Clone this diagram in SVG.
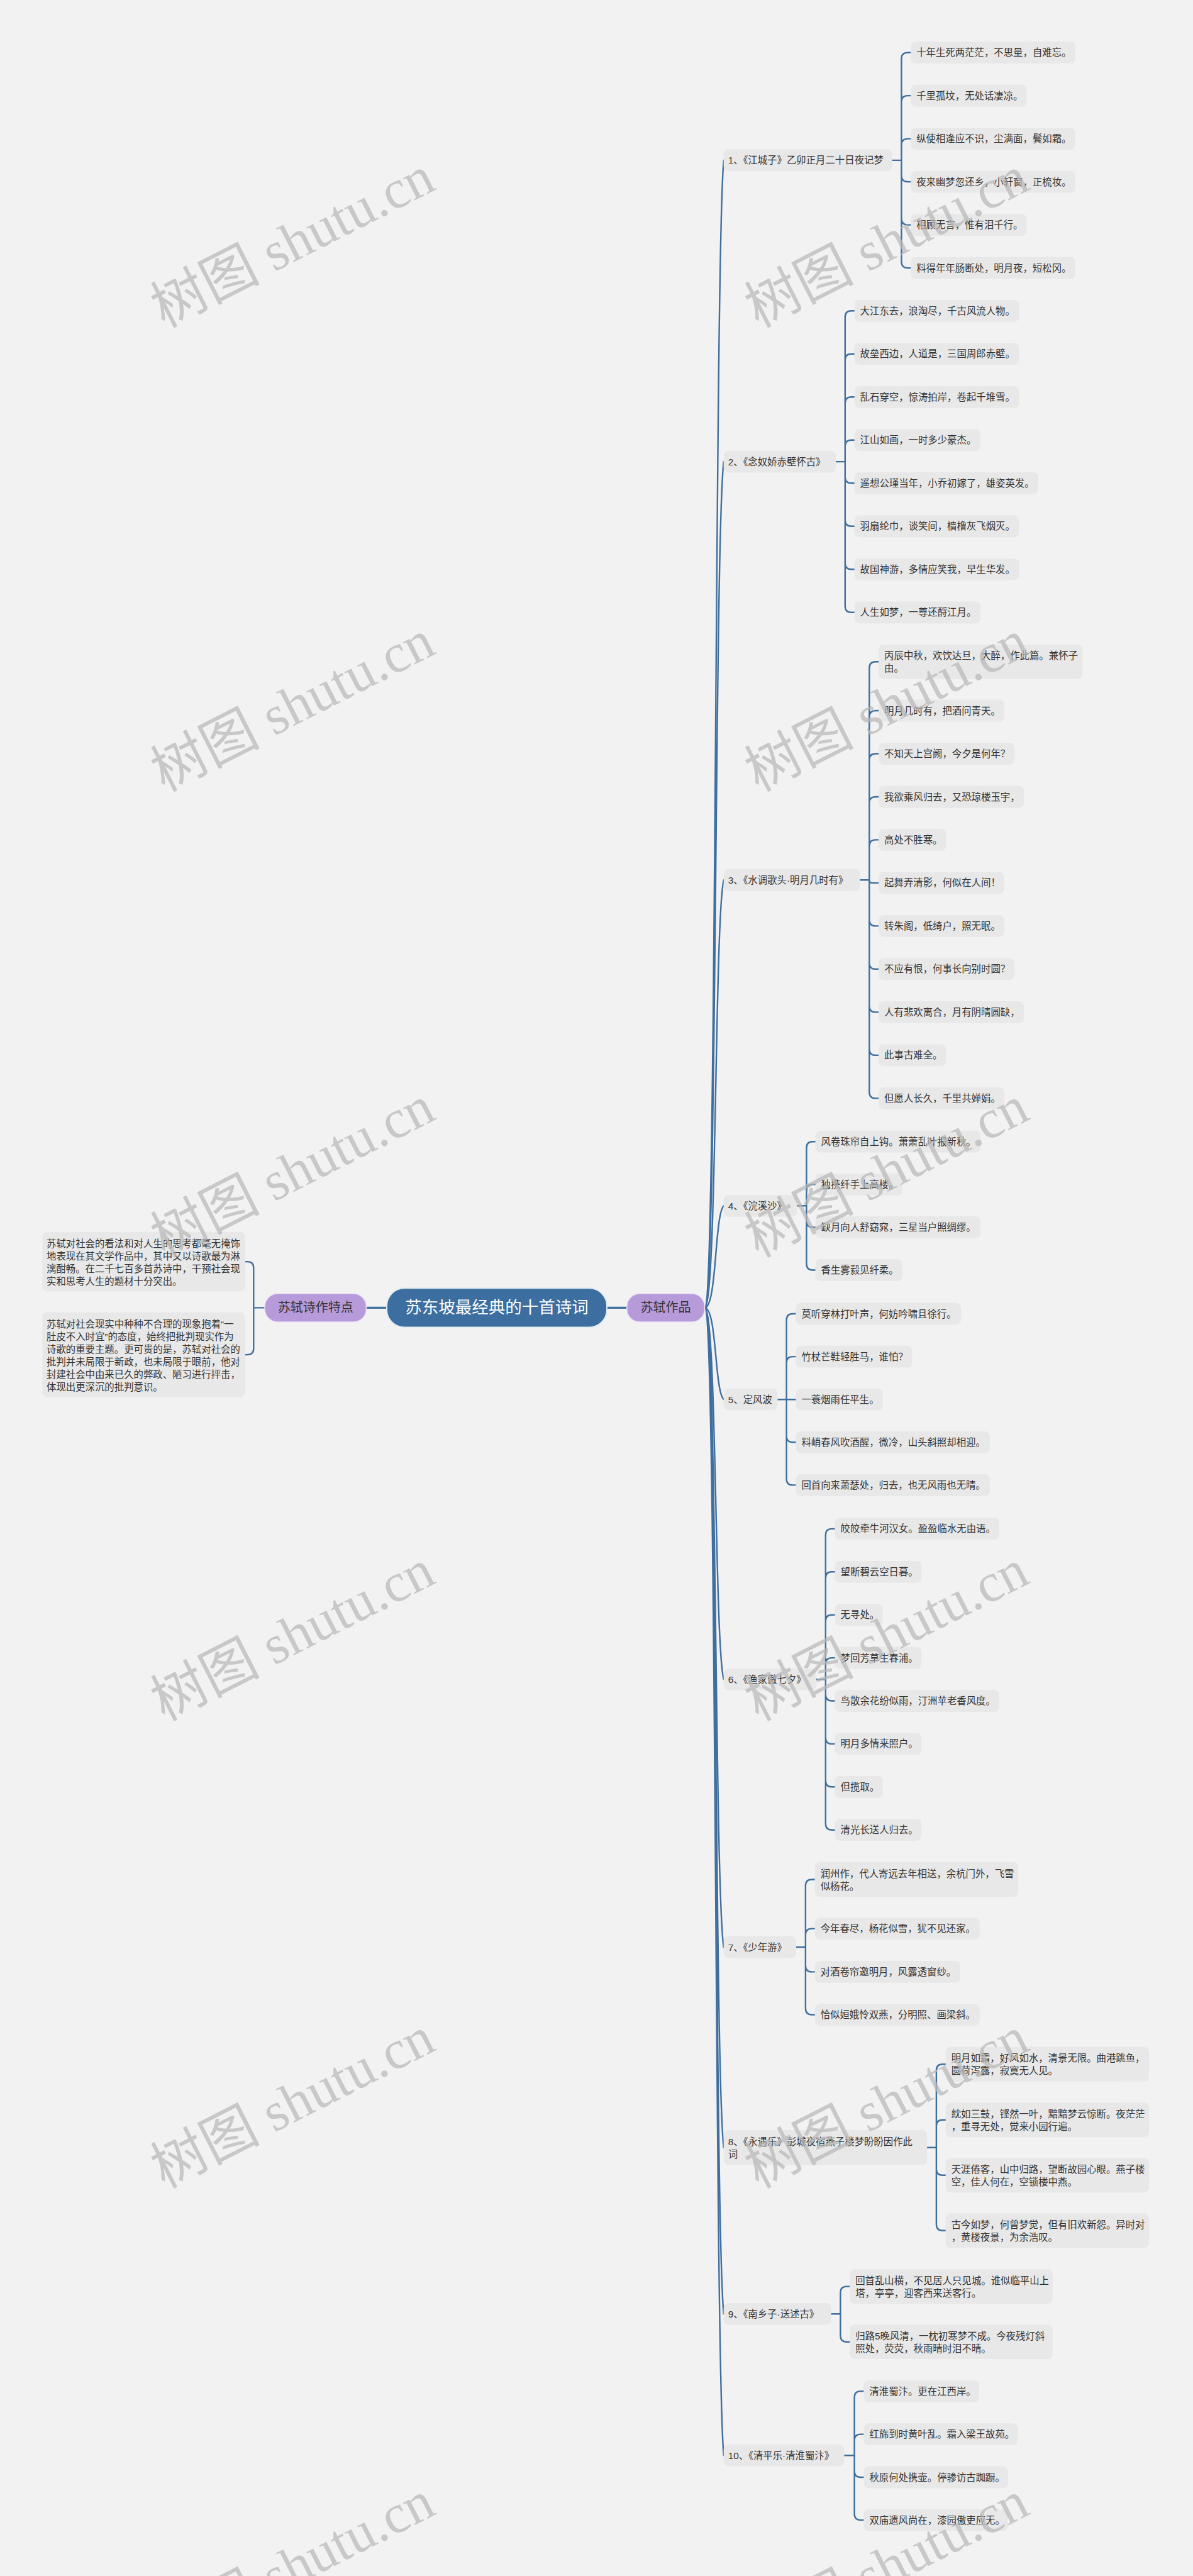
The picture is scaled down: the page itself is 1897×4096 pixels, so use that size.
<svg xmlns="http://www.w3.org/2000/svg" width="1897" height="4096" viewBox="0 0 1897 4096">
<style>
.t{font-family:"Liberation Sans","Noto Sans CJK SC",sans-serif;font-size:15.4px;fill:#333;dominant-baseline:central}
.b{fill:#e8e8e8}
.ln{fill:none;stroke:#3f6f9f;stroke-width:2.4;stroke-linecap:round}
.wm{font-family:"Liberation Serif","Noto Sans CJK SC",serif;font-size:87px;fill:#b8b8b8;opacity:.72}
</style>
<rect width="1897" height="4096" fill="#f2f2f2"/>
<g id="connectors">
<path class="ln" style="stroke-width:3.2" d="M582.4 2079.4H615M965 2079.4H996.8"/>
<path class="ln" d="M421.1 2079.4H403.3V2016.1Q403.3 2006.1 393.3 2006.1H390M403.3 2079.4V2144.1Q403.3 2154.1 393.3 2154.1H390"/>
<path class="ln" d="M1120.4 2079.4C1140 2079.4 1136 437.4 1150.7 254.9M1120.4 2079.4C1140 2079.4 1136 868.6 1150.7 734.1M1120.4 2079.4C1140 2079.4 1136 1467.3 1150.7 1399.3M1120.4 2079.4C1140 2079.4 1136 1933.5 1150.7 1917.3M1120.4 2079.4C1140 2079.4 1136 2210.6 1150.7 2225.2M1120.4 2079.4C1140 2079.4 1136 2611.2 1150.7 2670.3M1120.4 2079.4C1140 2079.4 1136 2994.3 1150.7 3096M1120.4 2079.4C1140 2079.4 1136 3281.2 1150.7 3414.7M1120.4 2079.4C1140 2079.4 1136 3519.3 1150.7 3679.3M1120.4 2079.4C1140 2079.4 1136 3721.7 1150.7 3904.2"/>
<path class="ln" d="M1418.6 254.9H1433.4V93.6Q1433.4 83.6 1443.4 83.6H1448.2M1433.4 254.9V162.1Q1433.4 152.1 1443.4 152.1H1448.2M1433.4 254.9V230.6Q1433.4 220.6 1443.4 220.6H1448.2M1433.4 254.9V279.1Q1433.4 289.1 1443.4 289.1H1448.2M1433.4 254.9V347.6Q1433.4 357.6 1443.4 357.6H1448.2M1433.4 254.9V416.1Q1433.4 426.1 1443.4 426.1H1448.2"/>
<path class="ln" d="M1329 734.1H1343.8V504.3Q1343.8 494.3 1353.8 494.3H1358.6M1343.8 734.1V572.8Q1343.8 562.8 1353.8 562.8H1358.6M1343.8 734.1V641.3Q1343.8 631.3 1353.8 631.3H1358.6M1343.8 734.1V709.8Q1343.8 699.8 1353.8 699.8H1358.6M1343.8 734.1V758.3Q1343.8 768.3 1353.8 768.3H1358.6M1343.8 734.1V826.8Q1343.8 836.8 1353.8 836.8H1358.6M1343.8 734.1V895.3Q1343.8 905.3 1353.8 905.3H1358.6M1343.8 734.1V963.8Q1343.8 973.8 1353.8 973.8H1358.6"/>
<path class="ln" d="M1367.5 1399.3H1382.3V1062.3Q1382.3 1052.3 1392.3 1052.3H1397.1M1382.3 1399.3V1140Q1382.3 1130 1392.3 1130H1397.1M1382.3 1399.3V1208.5Q1382.3 1198.5 1392.3 1198.5H1397.1M1382.3 1399.3V1277Q1382.3 1267 1392.3 1267H1397.1M1382.3 1399.3V1345.4Q1382.3 1335.4 1392.3 1335.4H1397.1M1382.3 1399.3Q1382.3 1403.9 1386.9 1403.9H1397.1M1382.3 1399.3V1462.4Q1382.3 1472.4 1392.3 1472.4H1397.1M1382.3 1399.3V1530.9Q1382.3 1540.9 1392.3 1540.9H1397.1M1382.3 1399.3V1599.4Q1382.3 1609.4 1392.3 1609.4H1397.1M1382.3 1399.3V1667.9Q1382.3 1677.9 1392.3 1677.9H1397.1M1382.3 1399.3V1736.4Q1382.3 1746.4 1392.3 1746.4H1397.1"/>
<path class="ln" d="M1267.6 1917.3H1282.4V1825.2Q1282.4 1815.2 1292.4 1815.2H1296.5M1282.4 1917.3V1893.3Q1282.4 1883.3 1292.4 1883.3H1296.5M1282.4 1917.3V1941.4Q1282.4 1951.4 1292.4 1951.4H1296.5M1282.4 1917.3V2009.5Q1282.4 2019.5 1292.4 2019.5H1296.5"/>
<path class="ln" d="M1236.5 2225.2H1250.6V2099Q1250.6 2089 1260.6 2089H1265.4M1250.6 2225.2V2167.1Q1250.6 2157.1 1260.6 2157.1H1265.4M1250.6 2225.2H1265.4M1250.6 2225.2V2283.3Q1250.6 2293.3 1260.6 2293.3H1265.4M1250.6 2225.2V2351.4Q1250.6 2361.4 1260.6 2361.4H1265.4"/>
<path class="ln" d="M1298 2670.3H1312.8V2440.9Q1312.8 2430.9 1322.8 2430.9H1327.6M1312.8 2670.3V2509.3Q1312.8 2499.3 1322.8 2499.3H1327.6M1312.8 2670.3V2577.7Q1312.8 2567.7 1322.8 2567.7H1327.6M1312.8 2670.3V2646.1Q1312.8 2636.1 1322.8 2636.1H1327.6M1312.8 2670.3V2694.5Q1312.8 2704.5 1322.8 2704.5H1327.6M1312.8 2670.3V2762.9Q1312.8 2772.9 1322.8 2772.9H1327.6M1312.8 2670.3V2831.3Q1312.8 2841.3 1322.8 2841.3H1327.6M1312.8 2670.3V2899.7Q1312.8 2909.7 1322.8 2909.7H1327.6"/>
<path class="ln" d="M1266.1 3096H1280.9V2998.5Q1280.9 2988.5 1290.9 2988.5H1295.7M1280.9 3096V3076.6Q1280.9 3066.6 1290.9 3066.6H1295.7M1280.9 3096V3125.4Q1280.9 3135.4 1290.9 3135.4H1295.7M1280.9 3096V3193.5Q1280.9 3203.5 1290.9 3203.5H1295.7"/>
<path class="ln" d="M1474.1 3414.7H1488.9V3292.3Q1488.9 3282.3 1498.9 3282.3H1503.7M1488.9 3414.7V3380.7Q1488.9 3370.7 1498.9 3370.7H1503.7M1488.9 3414.7V3448.8Q1488.9 3458.8 1498.9 3458.8H1503.7M1488.9 3414.7V3536.8Q1488.9 3546.8 1498.9 3546.8H1503.7"/>
<path class="ln" d="M1321.6 3679.3H1336.4V3645.6Q1336.4 3635.6 1346.4 3635.6H1351.2M1336.4 3679.3V3713.7Q1336.4 3723.7 1346.4 3723.7H1351.2"/>
<path class="ln" d="M1342.4 3904.2H1358.6V3812.1Q1358.6 3802.1 1368.6 3802.1H1373.4M1358.6 3904.2V3880.6Q1358.6 3870.6 1368.6 3870.6H1373.4M1358.6 3904.2V3929Q1358.6 3939 1368.6 3939H1373.4M1358.6 3904.2V3997.1Q1358.6 4007.1 1368.6 4007.1H1373.4"/>
</g>
<g id="root"><rect x="615" y="2048.3" width="350" height="62.2" rx="28" fill="#3c6e9f" stroke="#e3ebf3" stroke-width="2"/><text x="790" y="2079.4" text-anchor="middle" style="font-family:'Liberation Sans','Noto Sans CJK SC',sans-serif;font-size:26.5px;fill:#fff;dominant-baseline:central">苏东坡最经典的十首诗词</text></g>
<g id="left-main"><rect x="421.1" y="2057" width="161.3" height="45" rx="20" fill="#b79ad9" stroke="#ece4f6" stroke-width="1.5"/><text x="501.7" y="2079.4" text-anchor="middle" class="t" style="font-size:20px">苏轼诗作特点</text></g>
<g id="right-main"><rect x="996.8" y="2057" width="123.6" height="45" rx="20" fill="#b79ad9" stroke="#ece4f6" stroke-width="1.5"/><text x="1058.6" y="2079.4" text-anchor="middle" class="t" style="font-size:20px">苏轼作品</text></g>
<g id="left-1"><rect class="b" x="67.3" y="1958.8" width="322.7" height="94.7" rx="8"/><text class="t" x="74"><tspan x="74" y="1976.5">苏轼对社会的看法和对人生的思考都毫无掩饰</tspan><tspan x="74" y="1996.7">地表现在其文学作品中，其中又以诗歌最为淋</tspan><tspan x="74" y="2016.9">漓酣畅。在二千七百多首苏诗中，干预社会现</tspan><tspan x="74" y="2037.1">实和思考人生的题材十分突出。</tspan></text></g>
<g id="left-2"><rect class="b" x="67.3" y="2086.8" width="322.7" height="134.7" rx="8"/><text class="t" x="74"><tspan x="74" y="2104.8">苏轼对社会现实中种种不合理的现象抱着“一</tspan><tspan x="74" y="2124.9">肚皮不入时宜”的态度，始终把批判现实作为</tspan><tspan x="74" y="2145">诗歌的重要主题。更可贵的是，苏轼对社会的</tspan><tspan x="74" y="2165.1">批判并未局限于新政，也未局限于眼前，他对</tspan><tspan x="74" y="2185.2">封建社会中由来已久的弊政、陋习进行抨击，</tspan><tspan x="74" y="2205.3">体现出更深沉的批判意识。</tspan></text></g>
<g id="c1"><rect class="b" x="1150.7" y="237.5" width="267.9" height="34.8" rx="8"/><text class="t" x="1157.7" y="254.9">1、《江城子》乙卯正月二十日夜记梦</text></g>
<g id="c1-1"><rect class="b" x="1448.2" y="66.2" width="261.9" height="34.8" rx="8"/><text class="t" x="1457.2" y="83.6">十年生死两茫茫，不思量，自难忘。</text></g>
<g id="c1-2"><rect class="b" x="1448.2" y="134.7" width="184.2" height="34.8" rx="8"/><text class="t" x="1457.2" y="152.1">千里孤坟，无处话凄凉。</text></g>
<g id="c1-3"><rect class="b" x="1448.2" y="203.2" width="261.9" height="34.8" rx="8"/><text class="t" x="1457.2" y="220.6">纵使相逢应不识，尘满面，鬓如霜。</text></g>
<g id="c1-4"><rect class="b" x="1448.2" y="271.7" width="261.9" height="34.8" rx="8"/><text class="t" x="1457.2" y="289.1">夜来幽梦忽还乡，小轩窗，正梳妆。</text></g>
<g id="c1-5"><rect class="b" x="1448.2" y="340.2" width="184.2" height="34.8" rx="8"/><text class="t" x="1457.2" y="357.6">相顾无言，惟有泪千行。</text></g>
<g id="c1-6"><rect class="b" x="1448.2" y="408.7" width="261.9" height="34.8" rx="8"/><text class="t" x="1457.2" y="426.1">料得年年肠断处，明月夜，短松冈。</text></g>
<g id="c2"><rect class="b" x="1150.7" y="716.7" width="178.3" height="34.8" rx="8"/><text class="t" x="1157.7" y="734.1">2、《念奴娇赤壁怀古》</text></g>
<g id="c2-1"><rect class="b" x="1358.6" y="476.9" width="262" height="34.8" rx="8"/><text class="t" x="1367.6" y="494.3">大江东去，浪淘尽，千古风流人物。</text></g>
<g id="c2-2"><rect class="b" x="1358.6" y="545.4" width="262" height="34.8" rx="8"/><text class="t" x="1367.6" y="562.8">故垒西边，人道是，三国周郎赤壁。</text></g>
<g id="c2-3"><rect class="b" x="1358.6" y="613.9" width="262" height="34.8" rx="8"/><text class="t" x="1367.6" y="631.3">乱石穿空，惊涛拍岸，卷起千堆雪。</text></g>
<g id="c2-4"><rect class="b" x="1358.6" y="682.4" width="200.6" height="34.8" rx="8"/><text class="t" x="1367.6" y="699.8">江山如画，一时多少豪杰。</text></g>
<g id="c2-5"><rect class="b" x="1358.6" y="750.9" width="292.3" height="34.8" rx="8"/><text class="t" x="1367.6" y="768.3">遥想公瑾当年，小乔初嫁了，雄姿英发。</text></g>
<g id="c2-6"><rect class="b" x="1358.6" y="819.4" width="262" height="34.8" rx="8"/><text class="t" x="1367.6" y="836.8">羽扇纶巾，谈笑间，樯橹灰飞烟灭。</text></g>
<g id="c2-7"><rect class="b" x="1358.6" y="887.9" width="262" height="34.8" rx="8"/><text class="t" x="1367.6" y="905.3">故国神游，多情应笑我，早生华发。</text></g>
<g id="c2-8"><rect class="b" x="1358.6" y="956.4" width="200.6" height="34.8" rx="8"/><text class="t" x="1367.6" y="973.8">人生如梦，一尊还酹江月。</text></g>
<g id="c3"><rect class="b" x="1150.7" y="1381.9" width="216.8" height="34.8" rx="8"/><text class="t" x="1157.7" y="1399.3">3、《水调歌头·明月几时有》</text></g>
<g id="c3-1"><rect class="b" x="1397.1" y="1024.9" width="324.1" height="54.8" rx="8"/><text class="t"><tspan x="1406.1" y="1042.3">丙辰中秋，欢饮达旦，大醉，作此篇。兼怀子</tspan><tspan x="1406.1" y="1062.3">由。</tspan></text></g>
<g id="c3-2"><rect class="b" x="1397.1" y="1112.6" width="199.8" height="34.8" rx="8"/><text class="t" x="1406.1" y="1130">明月几时有，把酒问青天。</text></g>
<g id="c3-3"><rect class="b" x="1397.1" y="1181.1" width="216.1" height="34.8" rx="8"/><text class="t" x="1406.1" y="1198.5">不知天上宫阙，今夕是何年？</text></g>
<g id="c3-4"><rect class="b" x="1397.1" y="1249.6" width="230.9" height="34.8" rx="8"/><text class="t" x="1406.1" y="1267">我欲乘风归去，又恐琼楼玉宇，</text></g>
<g id="c3-5"><rect class="b" x="1397.1" y="1318" width="107.3" height="34.8" rx="8"/><text class="t" x="1406.1" y="1335.4">高处不胜寒。</text></g>
<g id="c3-6"><rect class="b" x="1397.1" y="1386.5" width="199.8" height="34.8" rx="8"/><text class="t" x="1406.1" y="1403.9">起舞弄清影，何似在人间！</text></g>
<g id="c3-7"><rect class="b" x="1397.1" y="1455" width="199.8" height="34.8" rx="8"/><text class="t" x="1406.1" y="1472.4">转朱阁，低绮户，照无眠。</text></g>
<g id="c3-8"><rect class="b" x="1397.1" y="1523.5" width="216.1" height="34.8" rx="8"/><text class="t" x="1406.1" y="1540.9">不应有恨，何事长向别时圆？</text></g>
<g id="c3-9"><rect class="b" x="1397.1" y="1592" width="230.9" height="34.8" rx="8"/><text class="t" x="1406.1" y="1609.4">人有悲欢离合，月有阴晴圆缺，</text></g>
<g id="c3-10"><rect class="b" x="1397.1" y="1660.5" width="107.3" height="34.8" rx="8"/><text class="t" x="1406.1" y="1677.9">此事古难全。</text></g>
<g id="c3-11"><rect class="b" x="1397.1" y="1729" width="199.8" height="34.8" rx="8"/><text class="t" x="1406.1" y="1746.4">但愿人长久，千里共婵娟。</text></g>
<g id="c4"><rect class="b" x="1150.7" y="1899.9" width="116.9" height="34.8" rx="8"/><text class="t" x="1157.7" y="1917.3">4、《浣溪沙》</text></g>
<g id="c4-1"><rect class="b" x="1296.5" y="1797.8" width="262.7" height="34.8" rx="8"/><text class="t" x="1305.5" y="1815.2">风卷珠帘自上钩。萧萧乱叶报新秋。</text></g>
<g id="c4-2"><rect class="b" x="1296.5" y="1865.9" width="138.4" height="34.8" rx="8"/><text class="t" x="1305.5" y="1883.3">独携纤手上高楼。</text></g>
<g id="c4-3"><rect class="b" x="1296.5" y="1934" width="262.7" height="34.8" rx="8"/><text class="t" x="1305.5" y="1951.4">缺月向人舒窈窕，三星当户照绸缪。</text></g>
<g id="c4-4"><rect class="b" x="1296.5" y="2002.1" width="138.4" height="34.8" rx="8"/><text class="t" x="1305.5" y="2019.5">香生雾縠见纤柔。</text></g>
<g id="c5"><rect class="b" x="1150.7" y="2207.8" width="85.8" height="34.8" rx="8"/><text class="t" x="1157.7" y="2225.2">5、定风波</text></g>
<g id="c5-1"><rect class="b" x="1265.4" y="2071.6" width="262.7" height="34.8" rx="8"/><text class="t" x="1274.4" y="2089">莫听穿林打叶声，何妨吟啸且徐行。</text></g>
<g id="c5-2"><rect class="b" x="1265.4" y="2139.7" width="185" height="34.8" rx="8"/><text class="t" x="1274.4" y="2157.1">竹杖芒鞋轻胜马，谁怕？</text></g>
<g id="c5-3"><rect class="b" x="1265.4" y="2207.8" width="138.4" height="34.8" rx="8"/><text class="t" x="1274.4" y="2225.2">一蓑烟雨任平生。</text></g>
<g id="c5-4"><rect class="b" x="1265.4" y="2275.9" width="308.6" height="34.8" rx="8"/><text class="t" x="1274.4" y="2293.3">料峭春风吹酒醒，微冷，山头斜照却相迎。</text></g>
<g id="c5-5"><rect class="b" x="1265.4" y="2344" width="308.6" height="34.8" rx="8"/><text class="t" x="1274.4" y="2361.4">回首向来萧瑟处，归去，也无风雨也无晴。</text></g>
<g id="c6"><rect class="b" x="1150.7" y="2652.9" width="147.3" height="34.8" rx="8"/><text class="t" x="1157.7" y="2670.3">6、《渔家傲七夕》</text></g>
<g id="c6-1"><rect class="b" x="1327.6" y="2413.5" width="261.2" height="34.8" rx="8"/><text class="t" x="1336.6" y="2430.9">皎皎牵牛河汉女。盈盈临水无由语。</text></g>
<g id="c6-2"><rect class="b" x="1327.6" y="2481.9" width="137.6" height="34.8" rx="8"/><text class="t" x="1336.6" y="2499.3">望断碧云空日暮。</text></g>
<g id="c6-3"><rect class="b" x="1327.6" y="2550.3" width="76.2" height="34.8" rx="8"/><text class="t" x="1336.6" y="2567.7">无寻处。</text></g>
<g id="c6-4"><rect class="b" x="1327.6" y="2618.7" width="137.6" height="34.8" rx="8"/><text class="t" x="1336.6" y="2636.1">梦回芳草生春浦。</text></g>
<g id="c6-5"><rect class="b" x="1327.6" y="2687.1" width="261.2" height="34.8" rx="8"/><text class="t" x="1336.6" y="2704.5">鸟散余花纷似雨，汀洲苹老香风度。</text></g>
<g id="c6-6"><rect class="b" x="1327.6" y="2755.5" width="137.6" height="34.8" rx="8"/><text class="t" x="1336.6" y="2772.9">明月多情来照户。</text></g>
<g id="c6-7"><rect class="b" x="1327.6" y="2823.9" width="76.2" height="34.8" rx="8"/><text class="t" x="1336.6" y="2841.3">但揽取。</text></g>
<g id="c6-8"><rect class="b" x="1327.6" y="2892.3" width="137.6" height="34.8" rx="8"/><text class="t" x="1336.6" y="2909.7">清光长送人归去。</text></g>
<g id="c7"><rect class="b" x="1150.7" y="3078.6" width="115.4" height="34.8" rx="8"/><text class="t" x="1157.7" y="3096">7、《少年游》</text></g>
<g id="c7-1"><rect class="b" x="1295.7" y="2960.7" width="323.4" height="55.5" rx="8"/><text class="t"><tspan x="1304.7" y="2978.6">润州作，代人寄远去年相送，余杭门外，飞雪</tspan><tspan x="1304.7" y="2998.6">似杨花。</tspan></text></g>
<g id="c7-2"><rect class="b" x="1295.7" y="3049.2" width="262" height="34.8" rx="8"/><text class="t" x="1304.7" y="3066.6">今年春尽，杨花似雪，犹不见还家。</text></g>
<g id="c7-3"><rect class="b" x="1295.7" y="3118" width="230.9" height="34.8" rx="8"/><text class="t" x="1304.7" y="3135.4">对酒卷帘邀明月，风露透窗纱。</text></g>
<g id="c7-4"><rect class="b" x="1295.7" y="3186.1" width="262" height="34.8" rx="8"/><text class="t" x="1304.7" y="3203.5">恰似姮娥怜双燕，分明照、画梁斜。</text></g>
<g id="c8"><rect class="b" x="1150.7" y="3387" width="323.4" height="55.5" rx="8"/><text class="t"><tspan x="1157.7" y="3404.7">8、《永遇乐》彭城夜宿燕子楼梦盼盼因作此</tspan><tspan x="1157.7" y="3424.7">词</tspan></text></g>
<g id="c8-1"><rect class="b" x="1503.7" y="3254.8" width="323.4" height="55" rx="8"/><text class="t"><tspan x="1512.7" y="3272.3">明月如霜，好风如水，清景无限。曲港跳鱼，</tspan><tspan x="1512.7" y="3292.3">圆荷泻露，寂寞无人见。</tspan></text></g>
<g id="c8-2"><rect class="b" x="1503.7" y="3343.2" width="323.4" height="55" rx="8"/><text class="t"><tspan x="1512.7" y="3360.7">紞如三鼓，铿然一叶，黯黯梦云惊断。夜茫茫</tspan><tspan x="1512.7" y="3380.7">，重寻无处，觉来小园行遍。</tspan></text></g>
<g id="c8-3"><rect class="b" x="1503.7" y="3431.3" width="323.4" height="55" rx="8"/><text class="t"><tspan x="1512.7" y="3448.8">天涯倦客，山中归路，望断故园心眼。燕子楼</tspan><tspan x="1512.7" y="3468.8">空，佳人何在，空锁楼中燕。</tspan></text></g>
<g id="c8-4"><rect class="b" x="1503.7" y="3519.3" width="323.4" height="55" rx="8"/><text class="t"><tspan x="1512.7" y="3536.8">古今如梦，何曾梦觉，但有旧欢新怨。异时对</tspan><tspan x="1512.7" y="3556.8">，黄楼夜景，为余浩叹。</tspan></text></g>
<g id="c9"><rect class="b" x="1150.7" y="3661.9" width="170.9" height="34.8" rx="8"/><text class="t" x="1157.7" y="3679.3">9、《南乡子·送述古》</text></g>
<g id="c9-1"><rect class="b" x="1351.2" y="3608.2" width="322.7" height="54.8" rx="8"/><text class="t"><tspan x="1360.2" y="3625.6">回首乱山横，不见居人只见城。谁似临平山上</tspan><tspan x="1360.2" y="3645.6">塔，亭亭，迎客西来送客行。</tspan></text></g>
<g id="c9-2"><rect class="b" x="1351.2" y="3696.3" width="322.7" height="54.8" rx="8"/><text class="t"><tspan x="1360.2" y="3713.7">归路5晚风清，一枕初寒梦不成。今夜残灯斜</tspan><tspan x="1360.2" y="3733.7">照处，荧荧，秋雨晴时泪不晴。</tspan></text></g>
<g id="c10"><rect class="b" x="1150.7" y="3886.8" width="191.7" height="34.8" rx="8"/><text class="t" x="1157.7" y="3904.2">10、《清平乐·清淮蜀汴》</text></g>
<g id="c10-1"><rect class="b" x="1373.4" y="3784.7" width="183.5" height="34.8" rx="8"/><text class="t" x="1382.4" y="3802.1">清淮蜀汴。更在江西岸。</text></g>
<g id="c10-2"><rect class="b" x="1373.4" y="3853.2" width="245" height="34.8" rx="8"/><text class="t" x="1382.4" y="3870.6">红旆到时黄叶乱。霜入梁王故苑。</text></g>
<g id="c10-3"><rect class="b" x="1373.4" y="3921.6" width="229.4" height="34.8" rx="8"/><text class="t" x="1382.4" y="3939">秋原何处携壶。停骖访古踟蹰。</text></g>
<g id="c10-4"><rect class="b" x="1373.4" y="3989.7" width="229.4" height="34.8" rx="8"/><text class="t" x="1382.4" y="4007.1">双庙遗风尚在，漆园傲吏应无。</text></g>
<g id="watermarks">
<text class="wm" transform="translate(261 521.7) rotate(-27)">树图 shutu.cn</text>
<text class="wm" transform="translate(1205.5 521.7) rotate(-27)">树图 shutu.cn</text>
<text class="wm" transform="translate(261 1259.5) rotate(-27)">树图 shutu.cn</text>
<text class="wm" transform="translate(1205.5 1259.5) rotate(-27)">树图 shutu.cn</text>
<text class="wm" transform="translate(261 2000.2) rotate(-27)">树图 shutu.cn</text>
<text class="wm" transform="translate(1205.5 2000.2) rotate(-27)">树图 shutu.cn</text>
<text class="wm" transform="translate(261 2737.3) rotate(-27)">树图 shutu.cn</text>
<text class="wm" transform="translate(1205.5 2737.3) rotate(-27)">树图 shutu.cn</text>
<text class="wm" transform="translate(261 3480.2) rotate(-27)">树图 shutu.cn</text>
<text class="wm" transform="translate(1205.5 3480.2) rotate(-27)">树图 shutu.cn</text>
<text class="wm" transform="translate(261 4218) rotate(-27)">树图 shutu.cn</text>
<text class="wm" transform="translate(1205.5 4218) rotate(-27)">树图 shutu.cn</text>
</g>
</svg>
